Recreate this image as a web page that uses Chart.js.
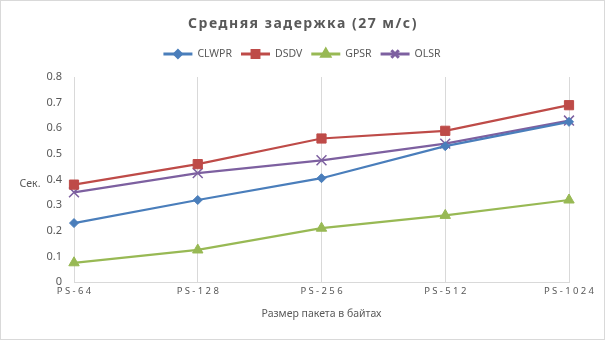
<!DOCTYPE html>
<html>
<head>
<meta charset="utf-8">
<script src="https://cdn.jsdelivr.net/npm/chart.js@4.4.0/dist/chart.umd.min.js"></script>
<style>
    html, body { margin: 0; padding: 0; background: #fff; }
    #wrap { width: 605px; height: 340px; position: relative; }
</style>
</head>
<body>
<div id="wrap"><canvas id="delayChart"></canvas></div>
<script>
// data
const packetSizes = ['PS-64', 'PS-128', 'PS-256', 'PS-512', 'PS-1024'];
const clwpr = [0.23, 0.32, 0.405, 0.53, 0.625];
const dsdv = [0.38, 0.46, 0.56, 0.59, 0.69];
const gpsr = [0.075, 0.125, 0.21, 0.26, 0.32];
const olsr = [0.35, 0.425, 0.475, 0.54, 0.63];
const yMin = 0, yMax = 0.8, yStep = 0.1;

const chartTitle = 'Средняя задержка (27 м/с)';
const yLabel = 'Сек.';
const xLabel = 'Размер пакета в байтах';

const textColor = '#595959';
const gridColor = '#d9d9d9';
const fontFamily = '"Noto Sans", "DejaVu Sans", sans-serif';

const series = [
    { label: 'CLWPR', data: clwpr, color: '#4a7ebb', style: 'rectRot', radius: 4.5 },
    { label: 'DSDV', data: dsdv, color: '#be4b48', style: 'rect', radius: 6.5 },
    { label: 'GPSR', data: gpsr, color: '#98b954', style: 'triangle', radius: 6 },
    { label: 'OLSR', data: olsr, color: '#7d60a0', style: 'crossRot', radius: 7 }
];

// title, horizontal y label, legend with line + marker, outer border
const decorations = {
    id: 'decorations',
    beforeDraw(chart) {
        const ctx = chart.ctx;
        ctx.save();
        ctx.fillStyle = '#fff';
        ctx.fillRect(0, 0, chart.width, chart.height);
        ctx.restore();
    },
    afterDraw(chart) {
        const ctx = chart.ctx;
        ctx.save();
        ctx.strokeStyle = gridColor;
        ctx.lineWidth = 1;
        ctx.strokeRect(0.5, 0.5, chart.width - 1, chart.height - 1);

        // title
        ctx.fillStyle = textColor;
        ctx.font = 'bold 14px ' + fontFamily;
        ctx.letterSpacing = '1.5px';
        ctx.textAlign = 'center';
        ctx.textBaseline = 'middle';
        ctx.fillText(chartTitle, 303, 24);
        ctx.letterSpacing = '0px';

        // y axis label
        ctx.font = '10.5px ' + fontFamily;
        ctx.fillText(yLabel, 30, 184);

        // legend
        ctx.font = '10.5px ' + fontFamily;
        ctx.textAlign = 'left';
        const lineLen = 29, gap = 5, itemGap = 9;
        const widths = series.map(s => lineLen + gap + ctx.measureText(s.label).width);
        const total = widths.reduce((a, b) => a + b, 0) + itemGap * (series.length - 1);
        let x = 302 - total / 2;
        const y = 54;
        series.forEach((s, i) => {
            ctx.strokeStyle = s.color;
            ctx.lineWidth = 3;
            ctx.beginPath();
            ctx.moveTo(x, y);
            ctx.lineTo(x + lineLen, y);
            ctx.stroke();
            ctx.fillStyle = s.color;
            Chart.helpers.drawPoint(ctx, {
                pointStyle: s.style, radius: s.radius * 0.75, rotation: 0, borderWidth: 1.5
            }, x + lineLen / 2, y);
            ctx.fillStyle = textColor;
            ctx.fillText(s.label, x + lineLen + gap, y);
            x += widths[i] + itemGap;
        });
        ctx.restore();
    }
};

// the reference prints the category labels letter-spaced
const spaced = str => str.split('').join('\u2005');

const ctx = document.getElementById('delayChart');
new Chart(ctx, {
    type: 'line',
    data: {
        labels: packetSizes,
        datasets: series.map(s => ({
            label: s.label,
            data: s.data,
            borderColor: s.color,
            backgroundColor: s.color,
            borderWidth: 2.25,
            pointStyle: s.style,
            pointRadius: s.radius,
            pointBorderWidth: s.style === 'crossRot' ? 1.5 : 1,
            pointBorderColor: s.color,
            pointBackgroundColor: s.color,
            tension: 0,
            fill: false
        }))
    },
    options: {
        responsive: true,
        maintainAspectRatio: false,
        animation: false,
        devicePixelRatio: 1,
        layout: { padding: { top: 77, right: 36, left: 0, bottom: 0 } },
        plugins: {
            legend: { display: false },
            title: { display: false },
            tooltip: { enabled: false }
        },
        scales: {
            x: {
                offset: false,
                grid: { color: gridColor, drawTicks: false },
                border: { color: gridColor },
                ticks: {
                    color: textColor,
                    padding: 4,
                    font: { family: fontFamily, size: 9.5 },
                    maxRotation: 0,
                    callback: function (value) { return spaced(this.getLabelForValue(value)); }
                },
                title: {
                    display: true,
                    text: xLabel,
                    color: textColor,
                    font: { family: fontFamily, size: 10.5 },
                    padding: { top: 0, bottom: 20 }
                },
                afterFit: scale => { scale.height = 58; }
            },
            y: {
                min: yMin,
                max: yMax,
                grid: { display: false },
                border: { display: false },
                ticks: {
                    stepSize: yStep,
                    color: textColor,
                    padding: 4,
                    font: { family: fontFamily, size: 11 },
                    callback: v => (v === 0 ? '0' : v.toFixed(1))
                },
                afterFit: scale => { scale.width = 74; }
            }
        }
    },
    plugins: [decorations]
});
</script>
</body>
</html>
